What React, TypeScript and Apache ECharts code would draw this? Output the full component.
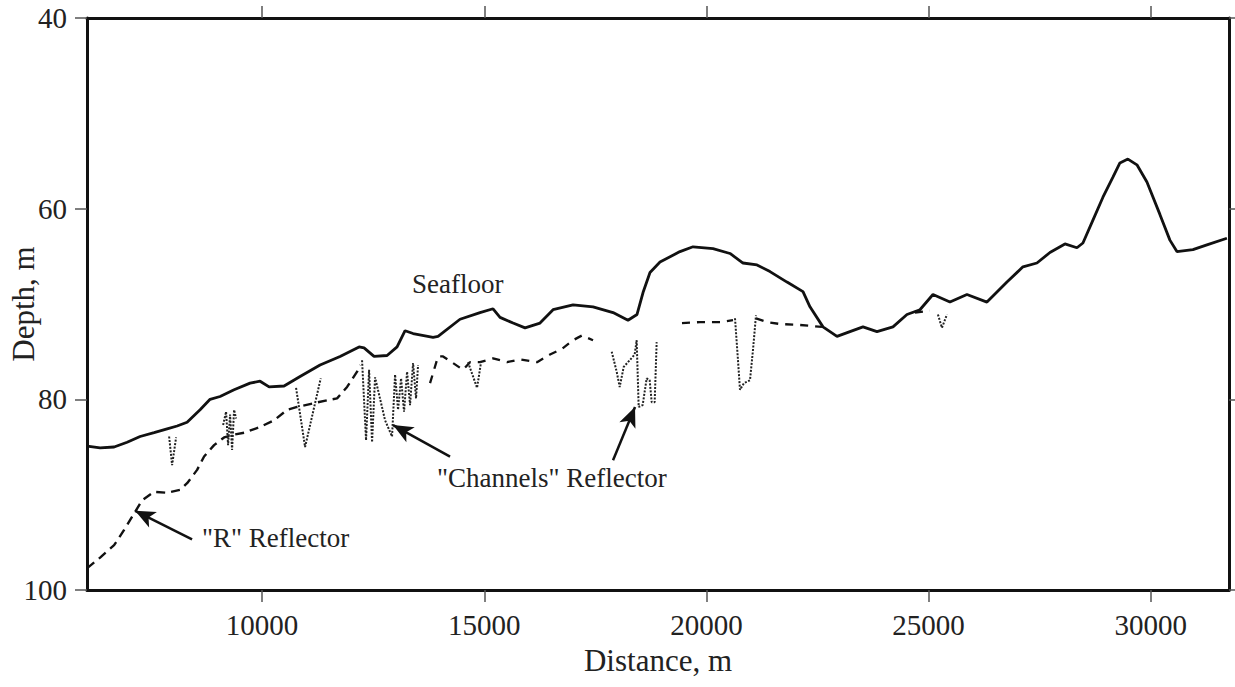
import React, { useEffect, useRef } from "react";
import * as echarts from "echarts";

// ---- Data (distance in m, depth in m) ----
const seafloorDist = [
  6065, 6355, 6670, 6963, 7255, 7570, 7863, 8088, 8313, 8605, 8830, 9055, 9370, 9730, 9955,
  10158, 10495, 10855, 11305, 11755, 12183, 12295, 12520, 12813, 13038, 13218, 13398, 13848,
  13960, 14455, 14905, 15198, 15355, 15648, 15918, 16255, 16548, 16998, 17448, 17898, 18235,
  18438, 18573, 18730, 18955, 19405, 19698, 20148, 20530, 20823, 21138, 21430, 21813, 22173,
  22330, 22623, 22938, 23230, 23523, 23838, 24198, 24513, 24805, 25098, 25480, 25863, 26313,
  26763, 27123, 27438, 27730, 28068, 28338, 28473, 28698, 28923, 29148, 29305, 29485, 29688,
  29913, 30205, 30430, 30588, 30948, 31263, 31713,
];
const seafloorDepth = [
  84.9, 85.1, 85.0, 84.5, 83.9, 83.5, 83.1, 82.8, 82.4, 81.1, 80.0, 79.7, 79.0, 78.3, 78.1,
  78.7, 78.6, 77.6, 76.4, 75.5, 74.5, 74.6, 75.5, 75.4, 74.5, 72.8, 73.1, 73.5,
  73.4, 71.6, 70.9, 70.5, 71.4, 72.0, 72.5, 72.0, 70.6, 70.1, 70.3, 70.9, 71.7,
  71.1, 68.8, 66.7, 65.6, 64.5, 64.0, 64.2, 64.7, 65.7, 65.9, 66.6, 67.7, 68.7,
  70.3, 72.4, 73.4, 72.9, 72.4, 72.9, 72.4, 71.1, 70.6, 69.0, 69.8, 69.0, 69.8,
  67.7, 66.1, 65.7, 64.6, 63.7, 64.1, 63.6, 61.2, 58.8, 56.7, 55.2, 54.8, 55.4,
  57.2, 60.6, 63.3, 64.5, 64.3, 63.8, 63.1,
];

// "R" reflector (dashed)
const rDist = [
  6065, 6355, 6670, 6895, 7143, 7300, 7570, 7863, 8155, 8313, 8538, 8695, 8920, 9145, 9370,
  9595, 9955, 10270, 10563, 10788, 11170, 11463, 11688, 11913, 12138, 12205,
];
const rDepth = [
  97.7, 96.6, 95.3, 93.7, 91.8, 90.6, 89.7, 89.8, 89.5, 88.8, 87.4, 86.0, 84.8, 84.0, 83.7,
  83.5, 82.9, 82.2, 81.1, 80.8, 80.4, 80.1, 79.9, 78.7, 77.1, 76.4,
];

// other dashed reflector segments (null = gap)
const dashDist = [
  13780, 13960, 14073, 14298, 14523, 14680, 14905, 15198, 15513, 15805, 16188, 16480, 16750,
  16998, 17200, 17448, null,
  19450, 19855, 20305, 20598, null,
  21115, 21363, 21655, 22105, 22600, null,
  24693, 25030,
];
const dashDepth = [
  78.3, 75.5, 75.5, 76.2, 76.9, 76.1, 76.1, 75.7, 76.1, 75.8, 76.1, 75.3, 74.7,
  73.8, 73.3, 73.8, null,
  72.0, 71.9, 71.9, 71.7, null,
  71.5, 71.9, 72.1, 72.2, 72.4, null,
  70.9, 70.7,
];

// "Channels" reflector (dotted, null = gap)
const chDist = [
  7908, 7975, 8065, null,
  9123, 9190, 9235, 9280, 9325, 9370, 9415, null,
  10765, 10968, 11320, null,
  12250, 12340, 12408, 12475, 12543, 12768, 12925, 12993, 13060, 13128, 13195, 13263, 13330,
  13398, 13465, 13510, null,
  14635, 14838, 14928, null,
  17868, 17980, 18048, 18138, 18273, 18385, 18430, 18475, 18565, 18655, 18723, 18768, 18835,
  18880, null,
  20643, 20710, 20755, 20845, 20980, 21048, 21115, null,
  25210, 25300, 25413,
];
const chDepth = [
  83.9, 86.9, 84.0, null,
  82.7, 81.3, 84.8, 81.6, 85.3, 81.1, 82.0, null,
  78.8, 85.0, 77.8, null,
  75.9, 84.3, 76.9, 84.5, 77.7, 82.2, 83.9, 77.4, 81.1, 77.8, 81.3, 77.1, 80.6,
  76.2, 79.9, 76.4, null,
  76.1, 78.8, 76.1, null,
  75.0, 77.1, 78.7, 76.6, 75.9, 75.3, 73.8, 80.8, 80.6, 77.8, 78.0, 80.3, 80.3,
  74.0, null,
  71.5, 75.9, 79.0, 78.3, 78.0, 74.8, 71.2, null,
  71.1, 72.5, 71.1,
];

// annotation arrows: tail -> head (data coordinates)
const arrowTailDist = [8425, 14230, 17898];
const arrowTailDepth = [94.7, 86.0, 86.4];
const arrowHeadDist = [7143, 12948, 18393];
const arrowHeadDepth = [91.7, 82.7, 80.8];

const xTicks = [10000, 15000, 20000, 25000, 30000];
const xMin = 6060;
const xMax = 31760;

const FONT = "'Liberation Serif', 'Times New Roman', serif";

function pairs(d: (number | null)[], v: (number | null)[]) {
  return d.map((x, i) => (x == null || v[i] == null ? ["-", "-"] : [x, v[i]]));
}

export default function App() {
  const ref = useRef<HTMLDivElement>(null);
  useEffect(() => {
    if (!ref.current) return;
    const chart = echarts.init(ref.current, null, { renderer: "svg" });
    const axisLine = { show: true, onZero: false, lineStyle: { color: "#111", width: 3 } };
    const tick = { show: true, length: 12, lineStyle: { color: "#555", width: 1.5 } };
    chart.setOption({
      animation: false,
      backgroundColor: "#fff",
      grid: {
        left: 87,
        right: 6,
        top: 18,
        bottom: 97,
        containLabel: false,
        outerBoundsMode: "none",
      },
      xAxis: [
        {
          type: "value",
          position: "bottom",
          min: xMin,
          max: xMax,
          axisLine,
          axisTick: { ...tick, customValues: xTicks },
          axisLabel: {
            customValues: xTicks,
            formatter: (v: number) => String(v),
            fontFamily: FONT,
            fontSize: 29,
            color: "#222",
            margin: 20,
          },
          splitLine: { show: false },
          name: "Distance, m",
          nameLocation: "middle",
          nameGap: 55,
          nameTextStyle: { fontFamily: FONT, fontSize: 31, color: "#222" },
        },
        {
          type: "value",
          position: "top",
          min: xMin,
          max: xMax,
          axisLine,
          axisTick: { ...tick, customValues: xTicks },
          axisLabel: { show: false },
          splitLine: { show: false },
        },
      ],
      yAxis: [
        {
          type: "value",
          position: "left",
          inverse: true,
          min: 40,
          max: 100,
          interval: 20,
          axisLine,
          axisTick: tick,
          axisLabel: {
            formatter: (v: number) => String(v),
            fontFamily: FONT,
            fontSize: 29,
            color: "#222",
            margin: 20,
          },
          splitLine: { show: false },
          name: "Depth, m",
          nameLocation: "middle",
          nameGap: 48,
          nameMoveOverlap: false,
          nameTextStyle: { fontFamily: FONT, fontSize: 31, color: "#222" },
        },
        {
          type: "value",
          position: "right",
          inverse: true,
          min: 40,
          max: 100,
          interval: 20,
          axisLine,
          axisTick: tick,
          axisLabel: { show: false },
          splitLine: { show: false },
        },
      ],
      series: [
        {
          name: "Seafloor",
          type: "line",
          data: pairs(seafloorDist, seafloorDepth),
          showSymbol: false,
          symbol: "none",
          lineStyle: { color: "#111", width: 2.8 },
          emphasis: { disabled: true },
          markLine: {
            silent: true,
            symbol: ["none", "arrow"],
            symbolSize: [13, 20],
            label: { show: false },
            lineStyle: { color: "#111", width: 2.5, type: "solid" },
            emphasis: { disabled: true },
            data: arrowTailDist.map((d, i) => [
              { coord: [d, arrowTailDepth[i]] },
              { coord: [arrowHeadDist[i], arrowHeadDepth[i]] },
            ]),
          },
        },
        {
          name: "\"R\" Reflector",
          type: "line",
          data: pairs(rDist, rDepth),
          symbol: "none",
          lineStyle: { color: "#111", width: 2.4, type: [9, 6] },
          emphasis: { disabled: true },
        },
        {
          name: "Reflector",
          type: "line",
          data: pairs(dashDist, dashDepth),
          symbol: "none",
          connectNulls: false,
          lineStyle: { color: "#111", width: 2.3, type: [8, 7] },
          emphasis: { disabled: true },
        },
        {
          name: "\"Channels\" Reflector",
          type: "line",
          data: pairs(chDist, chDepth),
          symbol: "none",
          connectNulls: false,
          lineStyle: { color: "#222", width: 2, type: [2, 1.5] },
          emphasis: { disabled: true },
        },
      ],
      graphic: [
        {
          type: "text",
          x: 412,
          y: 284,
          style: {
            text: "Seafloor",
            font: `27px ${FONT}`,
            fill: "#222",
            verticalAlign: "middle",
          },
          silent: true,
        },
        {
          type: "text",
          x: 202,
          y: 538,
          style: {
            text: "\"R\" Reflector",
            font: `27px ${FONT}`,
            fill: "#222",
            verticalAlign: "middle",
          },
          silent: true,
        },
        {
          type: "text",
          x: 437,
          y: 478,
          style: {
            text: "\"Channels\" Reflector",
            font: `27px ${FONT}`,
            fill: "#222",
            verticalAlign: "middle",
          },
          silent: true,
        },
      ],
    });
    return () => chart.dispose();
  }, []);
  return (
    <div
      ref={ref}
      style={{ position: "fixed", left: 0, top: 0, width: 1235, height: 687, background: "#fff" }}
    />
  );
}
